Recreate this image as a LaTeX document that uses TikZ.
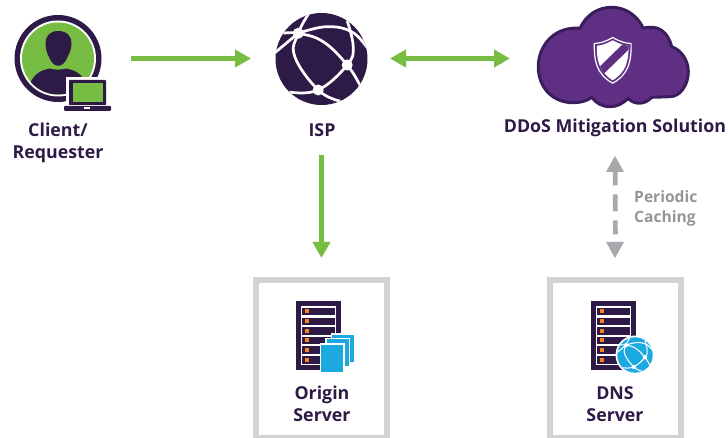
\documentclass[tikz,border=0pt]{standalone}
\usepackage{fontspec}
\setmainfont{Open Sans}
\usetikzlibrary{arrows.meta}
\definecolor{ink}{HTML}{2E1A47}
\definecolor{cloudfill}{HTML}{5F2F83}
\definecolor{cloudline}{HTML}{3B1D5E}
\definecolor{leaf}{HTML}{77BC43}
\definecolor{ash}{HTML}{A7A9AC}
\definecolor{ashtext}{HTML}{949598}
\definecolor{frame}{HTML}{D1D3D4}
\definecolor{sky}{HTML}{1BA9E0}
\definecolor{amber}{HTML}{F58220}
\tikzset{
  x=1pt,y=-1pt,
  anchorcircle/.style={circle,minimum size=#1,inner sep=0pt,outer sep=0pt},
  serverbox/.style={draw=frame,line width=6pt,minimum width=131pt,minimum height=158pt,inner sep=0pt,outer sep=3pt},
  label/.style={font=\bfseries\fontsize{17.8}{21.5}\selectfont,text=ink,align=center,inner sep=0pt},
  graylabel/.style={font=\bfseries\fontsize{15.6}{20}\selectfont,text=ashtext,align=left,inner sep=0pt,anchor=west},
  greenarrow/.style={draw=leaf,line width=4.6pt,-{Triangle[length=16pt,width=17pt]}},
  greenboth/.style={draw=leaf,line width=4.6pt,{Triangle[length=16pt,width=17pt]}-{Triangle[length=16pt,width=17pt]}},
  grayarrow/.style={draw=ash,line width=4.7pt,dash pattern=on 14pt off 9pt on 17pt off 9pt,dash phase=0pt},
}
\newcommand{\servericon}[2]{%
  \begin{scope}[shift={(#1,#2)}]
    \fill[ink] (0,0) rectangle (45,69);
    \fill[white] (4.7,4.7) rectangle (40,64);
    \foreach \ya/\yb in {6.7/14,16.7/24,26.3/33.7,35.7/43,45.3/52.7,55.3/62.7}{
      \fill[ink] (6,\ya) rectangle (38.7,\yb);
      \fill[amber] (9,{\ya+1.7}) rectangle (13,{\ya+5.7});
    }
  \end{scope}}
\newcommand{\globeicon}[5]{% x y scale fill line
  \begin{scope}[shift={(#1,#2)},x=#3pt,y=-#3pt]
    \fill[#4] (0,0) circle (46);
    \begin{scope}
      \clip (0,0) circle (46);
      \draw[#5,line width=#3*2.7pt,line cap=round] plot[smooth,tension=0.7] coordinates {(-11.7,-47) (-23.3,-25.7) (-26.7,-2.3) (-3.3,31) (18.3,42)};
      \draw[#5,line width=#3*2.7pt] plot[smooth,tension=0.7] coordinates {(-38,-25.7) (-23.3,-25.7) (1.7,-17.3) (25.7,6) (38.3,26)};
      \draw[#5,line width=#3*2.7pt] (-47,-6) -- (-23.3,-25.7);
      \draw[#5,line width=#3*2.7pt] plot[smooth,tension=0.7] coordinates {(-23.3,-25.7) (5,-32.3) (30,-27.3) (45,-12)};
      \draw[#5,line width=#3*2.7pt] plot[smooth,tension=0.7] coordinates {(25.7,-38) (31.7,-12.3) (25.7,6) (-3.3,31) (-32,33)};
      \fill[#5] (-23.3,-25.7) circle (5.5) (25.7,6) circle (5.5) (-3.3,31) circle (5.5);
    \end{scope}
  \end{scope}}
\begin{document}
\begin{tikzpicture}
\useasboundingbox (0,0) rectangle (728,438);
\clip (0,0) rectangle (728,438);
% anchors for connectors
\node[anchorcircle=86pt] (client) at (58,58.5) {};
\node[anchorcircle=92pt] (isp) at (321.5,58.5) {};
\node[anchorcircle=150pt] (cloud) at (615,58.5) {};
\node[serverbox] (origin) at (321.5,359) {};
\node[serverbox] (dns) at (615.5,359) {};
% client icon
\fill[ink] (58,58.5) circle (43.5);
\fill[white] (58,58.5) circle (38);
\fill[leaf] (58,58.5) circle (36);
\begin{scope}
  \clip (58,58.5) circle (36);
  \fill[ink] (58.3,31) .. controls (49,31) and (45.5,37) .. (45.5,43)
     .. controls (45.5,50) and (47.5,54) .. (49,57) .. controls (51,62) and (54,65.8) .. (58.3,65.8)
     .. controls (62.5,65.8) and (65.5,62) .. (67.5,57) .. controls (69,54) and (71.5,50) .. (71.5,43)
     .. controls (71.5,37) and (67.5,31) .. (58.3,31) -- cycle;
  \fill[ink] (30,84) .. controls (34,73) and (42,70) .. (50,68.5) .. controls (55,70) and (61,70) .. (66,68.5) .. controls (74,70) and (82,73) .. (86,84) -- (86,100) -- (30,100) -- cycle;
\end{scope}
\fill[white] (66,77.5) rectangle (108.5,107);
\fill[ink, rounded corners=1pt] (69,80) rectangle (106,105.5);
\fill[leaf] (72.5,83) rectangle (103,102);
\fill[white] (62,105.5) rectangle (113,112.5);
\fill[ink, rounded corners=1pt] (64,106) rectangle (111,111);
\fill[white] (84,107.5) rectangle (90,109);
% isp globe
\globeicon{321.5}{59}{1}{ink}{white}
% cloud
\path[fill=cloudfill,draw=cloudline,line width=3pt,line join=round]
  (580,28.3) .. controls (586,15) and (598,7.3) .. (611.7,7.3)
  .. controls (625,7.3) and (637,15) .. (643.3,28.3)
  .. controls (658,24) and (668,32) .. (671.7,46.7)
  .. controls (681,50) and (688.3,60) .. (688.3,71.7)
  .. controls (688.3,85) and (680,96.7) .. (670,96.7)
  -- (651.7,97.3)
  .. controls (645,105) and (634,105) .. (628.3,98.3)
  .. controls (622,104) and (617,106.7) .. (610,106.7)
  .. controls (602,106.7) and (596,103) .. (591.7,97.3)
  .. controls (587,101) and (580,102.7) .. (573.3,102.7)
  .. controls (552,102.7) and (538.3,87) .. (538.3,66.7)
  .. controls (538.3,45) and (555,26) .. (580,28.3) -- cycle;
% shield
\draw[white,line width=1.2pt,line join=round]
  (612.7,37.5) .. controls (606,41.5) and (600,43.3) .. (594.3,43.5)
  .. controls (594,60) and (596,74) .. (612.7,83.2)
  .. controls (629.4,74) and (631.4,60) .. (631.1,43.5)
  .. controls (625.4,43.3) and (619.4,41.5) .. (612.7,37.5) -- cycle;
\begin{scope}
  \clip (612.7,40.3) .. controls (607,43.5) and (602,45.3) .. (596.8,45.8)
  .. controls (596.6,60) and (599,72) .. (612.7,80.3)
  .. controls (626.4,72) and (628.8,60) .. (628.6,45.8)
  .. controls (623.4,45.3) and (618.4,43.5) .. (612.7,40.3) -- cycle;
  \fill[white] (590,35) rectangle (635,85);
  \draw[cloudfill,line width=8pt] (590,81.6) -- (637,35.9);
\end{scope}
% origin server
\servericon{296}{301}
\foreach \x/\y in {332/334.5,326.6/339.2,321.3/344.7}{
  \fill[white] ({\x-1.3},{\y-1.3}) rectangle ({\x+23.3},{\y+28.3});
  \fill[sky] (\x,\y) rectangle ({\x+22},{\y+27});
}
% dns server
\servericon{591}{301}
\fill[white] (635,355) circle (19.5);
\globeicon{635}{355}{0.385}{sky}{white}
% connectors
\draw[greenarrow,shorten <=30pt,shorten >=24.5pt] (client) -- (isp);
\draw[greenboth,shorten <=22.5pt,shorten >=105pt] (isp.east) -- (cloud.center);
\draw[greenarrow,shorten <=51pt,shorten >=19pt] (isp) -- (origin);
\fill[ash] (606,172) -- (615,156) -- (624,172) -- cycle;
\fill[ash] (606,242) -- (615,258) -- (624,242) -- cycle;
\draw[grayarrow,shorten <=113pt,shorten >=35pt] (cloud.center) -- (dns.north);
% labels
\node[label] (clientlabel) at (58,143) {Client/\\Requester};
\node[label] (isplabel) at (322,130) {ISP};
\node[label] (cloudlabel) at (615,128) {DDoS Mitigation Solution};
\node[label] (originlabel) at (322,404) {Origin\\Server};
\node[label] (dnslabel) at (615,404) {DNS\\Server};
\node[graylabel] (cachelabel) at (634,208) {Periodic\\Caching};
\end{tikzpicture}
\end{document}
